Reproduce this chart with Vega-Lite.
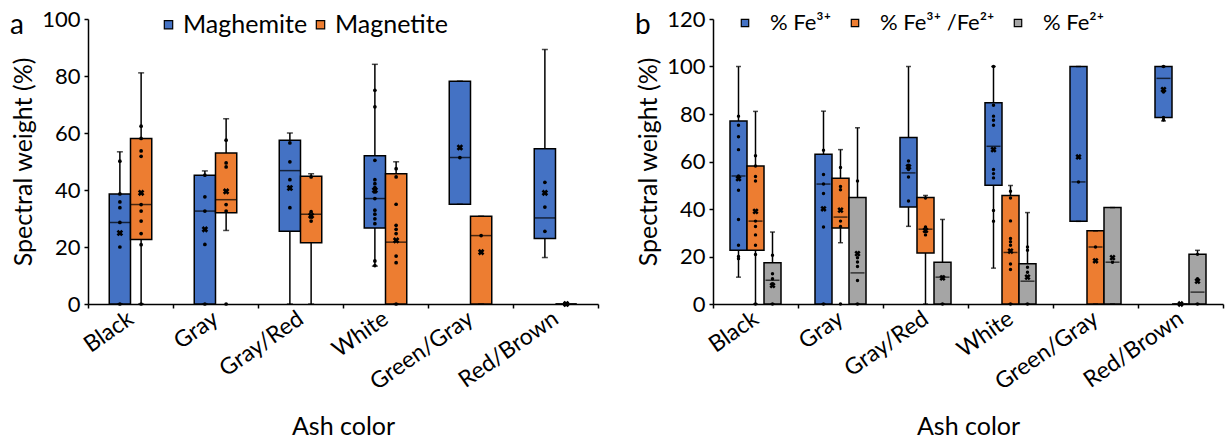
{
  "$schema": "https://vega.github.io/schema/vega-lite/v6.json",
  "padding": {"left": 10, "top": 8, "right": 5, "bottom": 4},
  "spacing": 36,
  "resolve": {"scale": {"color": "independent", "xOffset": "independent", "x": "independent", "y": "independent"}, "legend": {"color": "independent"}},
  "config": {
    "font": "Lato",
    "view": {"stroke": null},
    "axis": {"domainColor": "black", "domainWidth": 1.5, "tickColor": "black", "tickWidth": 1.5, "labelColor": "black", "titleColor": "black", "titleFontWeight": "normal", "grid": false},
    "legend": {"titleColor": "black", "titleFontWeight": "normal", "titleFontSize": 28, "titleOrient": "left", "titleBaseline": "top", "titleAnchor": "start"}
  },
  "datasets": {
    "boxA": [
      {"c": "Black", "s": "Maghemite", "lo": 0, "q1": 0, "med": 28.6, "q3": 38.6, "hi": 53.4, "mean": 24.9},
      {"c": "Black", "s": "Magnetite", "lo": 0, "q1": 22.6, "med": 34.9, "q3": 58.1, "hi": 81.1, "mean": 39.0},
      {"c": "Gray", "s": "Maghemite", "lo": 0, "q1": 0, "med": 32.6, "q3": 45.2, "hi": 46.7, "mean": 26.2},
      {"c": "Gray", "s": "Magnetite", "lo": 25.8, "q1": 32.0, "med": 36.6, "q3": 53.0, "hi": 65.0, "mean": 39.5},
      {"c": "Gray/Red", "s": "Maghemite", "lo": 0, "q1": 25.5, "med": 46.8, "q3": 57.5, "hi": 60.0, "mean": 40.7},
      {"c": "Gray/Red", "s": "Magnetite", "lo": 0, "q1": 21.5, "med": 31.5, "q3": 44.8, "hi": 45.7, "mean": 31.0},
      {"c": "White", "s": "Maghemite", "lo": 13.3, "q1": 26.7, "med": 37.0, "q3": 52.0, "hi": 84.1, "mean": 39.9},
      {"c": "White", "s": "Magnetite", "lo": 0, "q1": 0, "med": 21.7, "q3": 45.7, "hi": 49.9, "mean": 22.3},
      {"c": "Green/Gray", "s": "Maghemite", "lo": 35.0, "q1": 35.0, "med": 51.4, "q3": 78.2, "hi": 78.2, "mean": 54.9},
      {"c": "Green/Gray", "s": "Magnetite", "lo": 0, "q1": 0, "med": 24.0, "q3": 30.8, "hi": 30.8, "mean": 18.2},
      {"c": "Red/Brown", "s": "Maghemite", "lo": 16.3, "q1": 23.0, "med": 30.2, "q3": 54.5, "hi": 89.3, "mean": 39.0},
      {"c": "Red/Brown", "s": "Magnetite", "lo": 0, "q1": 0, "med": 0, "q3": 0, "hi": 0, "mean": 0}
    ],
    "ptsA": [
      {"c": "Black", "s": "Maghemite", "v": 50.1}, {"c": "Black", "s": "Maghemite", "v": 38.6}, {"c": "Black", "s": "Maghemite", "v": 35.8}, {"c": "Black", "s": "Maghemite", "v": 33.8}, {"c": "Black", "s": "Maghemite", "v": 28.6}, {"c": "Black", "s": "Maghemite", "v": 20.0}, {"c": "Black", "s": "Maghemite", "v": 0},
      {"c": "Black", "s": "Magnetite", "v": 62.4}, {"c": "Black", "s": "Magnetite", "v": 58.1}, {"c": "Black", "s": "Magnetite", "v": 53.7}, {"c": "Black", "s": "Magnetite", "v": 51.8}, {"c": "Black", "s": "Magnetite", "v": 34.9}, {"c": "Black", "s": "Magnetite", "v": 32.6}, {"c": "Black", "s": "Magnetite", "v": 29.1}, {"c": "Black", "s": "Magnetite", "v": 24.7}, {"c": "Black", "s": "Magnetite", "v": 20.8}, {"c": "Black", "s": "Magnetite", "v": 0},
      {"c": "Gray", "s": "Maghemite", "v": 45.2}, {"c": "Gray", "s": "Maghemite", "v": 37.6}, {"c": "Gray", "s": "Maghemite", "v": 32.6}, {"c": "Gray", "s": "Maghemite", "v": 20.9}, {"c": "Gray", "s": "Maghemite", "v": 0},
      {"c": "Gray", "s": "Magnetite", "v": 57.5}, {"c": "Gray", "s": "Magnetite", "v": 49.5}, {"c": "Gray", "s": "Magnetite", "v": 48.1}, {"c": "Gray", "s": "Magnetite", "v": 34.9}, {"c": "Gray", "s": "Magnetite", "v": 32.6}, {"c": "Gray", "s": "Magnetite", "v": 0},
      {"c": "Gray/Red", "s": "Maghemite", "v": 56.5}, {"c": "Gray/Red", "s": "Maghemite", "v": 49.9}, {"c": "Gray/Red", "s": "Maghemite", "v": 43.6}, {"c": "Gray/Red", "s": "Maghemite", "v": 33.8},
      {"c": "Gray/Red", "s": "Magnetite", "v": 44.6}, {"c": "Gray/Red", "s": "Magnetite", "v": 32.4}, {"c": "Gray/Red", "s": "Magnetite", "v": 30.5}, {"c": "Gray/Red", "s": "Magnetite", "v": 29.1},
      {"c": "White", "s": "Maghemite", "v": 75.0}, {"c": "White", "s": "Maghemite", "v": 69.2}, {"c": "White", "s": "Maghemite", "v": 50.4}, {"c": "White", "s": "Maghemite", "v": 43.6}, {"c": "White", "s": "Maghemite", "v": 42.2}, {"c": "White", "s": "Maghemite", "v": 40.8}, {"c": "White", "s": "Maghemite", "v": 39.3}, {"c": "White", "s": "Maghemite", "v": 37.0}, {"c": "White", "s": "Maghemite", "v": 32.9}, {"c": "White", "s": "Maghemite", "v": 31.5}, {"c": "White", "s": "Maghemite", "v": 29.9}, {"c": "White", "s": "Maghemite", "v": 28.2}, {"c": "White", "s": "Maghemite", "v": 15.1}, {"c": "White", "s": "Maghemite", "v": 13.5},
      {"c": "White", "s": "Magnetite", "v": 47.5}, {"c": "White", "s": "Magnetite", "v": 44.6}, {"c": "White", "s": "Magnetite", "v": 35.0}, {"c": "White", "s": "Magnetite", "v": 27.6}, {"c": "White", "s": "Magnetite", "v": 26.2}, {"c": "White", "s": "Magnetite", "v": 24.7}, {"c": "White", "s": "Magnetite", "v": 16.8}, {"c": "White", "s": "Magnetite", "v": 14.5}, {"c": "White", "s": "Magnetite", "v": 0},
      {"c": "Green/Gray", "s": "Maghemite", "v": 51.4},
      {"c": "Green/Gray", "s": "Magnetite", "v": 24.0},
      {"c": "Red/Brown", "s": "Maghemite", "v": 42.7}, {"c": "Red/Brown", "s": "Maghemite", "v": 34.0}, {"c": "Red/Brown", "s": "Maghemite", "v": 25.5},
      {"c": "Red/Brown", "s": "Magnetite", "v": 0}
    ],
    "boxB": [
      {"c": "Black", "s": "% Fe³⁺", "lo": 11.3, "q1": 22.6, "med": 53.9, "q3": 77.1, "hi": 100, "mean": 52.8},
      {"c": "Black", "s": "% Fe³⁺ /Fe²⁺", "lo": 0, "q1": 22.6, "med": 34.9, "q3": 58.1, "hi": 81.1, "mean": 39.0},
      {"c": "Black", "s": "% Fe²⁺", "lo": 0, "q1": 0, "med": 10.0, "q3": 17.4, "hi": 30.3, "mean": 7.8},
      {"c": "Gray", "s": "% Fe³⁺", "lo": 0, "q1": 0, "med": 50.5, "q3": 63.1, "hi": 81.2, "mean": 40.1},
      {"c": "Gray", "s": "% Fe³⁺ /Fe²⁺", "lo": 25.8, "q1": 32.0, "med": 36.6, "q3": 53.0, "hi": 65.0, "mean": 39.5},
      {"c": "Gray", "s": "% Fe²⁺", "lo": 0, "q1": 0, "med": 13.1, "q3": 44.8, "hi": 74.2, "mean": 21.2},
      {"c": "Gray/Red", "s": "% Fe³⁺", "lo": 32.7, "q1": 40.8, "med": 55.2, "q3": 70.1, "hi": 100, "mean": 57.7},
      {"c": "Gray/Red", "s": "% Fe³⁺ /Fe²⁺", "lo": 0, "q1": 21.5, "med": 31.5, "q3": 44.8, "hi": 45.7, "mean": 31.0},
      {"c": "Gray/Red", "s": "% Fe²⁺", "lo": 0, "q1": 0, "med": 11.3, "q3": 17.6, "hi": 35.6, "mean": 11.0},
      {"c": "White", "s": "% Fe³⁺", "lo": 15.1, "q1": 50.0, "med": 66.4, "q3": 84.7, "hi": 100, "mean": 65.0},
      {"c": "White", "s": "% Fe³⁺ /Fe²⁺", "lo": 0, "q1": 0, "med": 21.7, "q3": 45.7, "hi": 49.9, "mean": 22.3},
      {"c": "White", "s": "% Fe²⁺", "lo": 0, "q1": 0, "med": 9.6, "q3": 16.9, "hi": 38.5, "mean": 11.3},
      {"c": "Green/Gray", "s": "% Fe³⁺", "lo": 34.8, "q1": 34.8, "med": 51.4, "q3": 100, "hi": 100, "mean": 61.9},
      {"c": "Green/Gray", "s": "% Fe³⁺ /Fe²⁺", "lo": 0, "q1": 0, "med": 24.0, "q3": 30.8, "hi": 30.8, "mean": 18.2},
      {"c": "Green/Gray", "s": "% Fe²⁺", "lo": 0, "q1": 0, "med": 17.6, "q3": 40.6, "hi": 40.6, "mean": 19.5},
      {"c": "Red/Brown", "s": "% Fe³⁺", "lo": 77.1, "q1": 78.5, "med": 95.0, "q3": 100, "hi": 100, "mean": 90.3},
      {"c": "Red/Brown", "s": "% Fe³⁺ /Fe²⁺", "lo": 0, "q1": 0, "med": 0, "q3": 0, "hi": 0, "mean": 0},
      {"c": "Red/Brown", "s": "% Fe²⁺", "lo": 0, "q1": 0, "med": 5.0, "q3": 20.9, "hi": 22.6, "mean": 9.6}
    ],
    "ptsB": [
      {"c": "Black", "s": "% Fe³⁺", "v": 79.1}, {"c": "Black", "s": "% Fe³⁺", "v": 75.3}, {"c": "Black", "s": "% Fe³⁺", "v": 70.4}, {"c": "Black", "s": "% Fe³⁺", "v": 65.0}, {"c": "Black", "s": "% Fe³⁺", "v": 53.9}, {"c": "Black", "s": "% Fe³⁺", "v": 47.9}, {"c": "Black", "s": "% Fe³⁺", "v": 35.6}, {"c": "Black", "s": "% Fe³⁺", "v": 24.7}, {"c": "Black", "s": "% Fe³⁺", "v": 20.0}, {"c": "Black", "s": "% Fe³⁺", "v": 19.1},
      {"c": "Gray", "s": "% Fe³⁺", "v": 64.7}, {"c": "Gray", "s": "% Fe³⁺", "v": 54.5}, {"c": "Gray", "s": "% Fe³⁺", "v": 50.5}, {"c": "Gray", "s": "% Fe³⁺", "v": 46.5}, {"c": "Gray", "s": "% Fe³⁺", "v": 32.4}, {"c": "Gray", "s": "% Fe³⁺", "v": 0},
      {"c": "Gray/Red", "s": "% Fe³⁺", "v": 60.2}, {"c": "Gray/Red", "s": "% Fe³⁺", "v": 58.4}, {"c": "Gray/Red", "s": "% Fe³⁺", "v": 56.6}, {"c": "Gray/Red", "s": "% Fe³⁺", "v": 53.5}, {"c": "Gray/Red", "s": "% Fe³⁺", "v": 43.4},
      {"c": "White", "s": "% Fe³⁺", "v": 100}, {"c": "White", "s": "% Fe³⁺", "v": 83.7}, {"c": "White", "s": "% Fe³⁺", "v": 79.1}, {"c": "White", "s": "% Fe³⁺", "v": 77.4}, {"c": "White", "s": "% Fe³⁺", "v": 75.3}, {"c": "White", "s": "% Fe³⁺", "v": 56.6}, {"c": "White", "s": "% Fe³⁺", "v": 54.9}, {"c": "White", "s": "% Fe³⁺", "v": 53.1}, {"c": "White", "s": "% Fe³⁺", "v": 39.4}, {"c": "White", "s": "% Fe³⁺", "v": 34.8},
      {"c": "Green/Gray", "s": "% Fe³⁺", "v": 51.4},
      {"c": "Red/Brown", "s": "% Fe³⁺", "v": 100}, {"c": "Red/Brown", "s": "% Fe³⁺", "v": 89.3}, {"c": "Red/Brown", "s": "% Fe³⁺", "v": 78.5}, {"c": "Red/Brown", "s": "% Fe³⁺", "v": 77.5},
      {"c": "Black", "s": "% Fe³⁺ /Fe²⁺", "v": 62.4}, {"c": "Black", "s": "% Fe³⁺ /Fe²⁺", "v": 58.1}, {"c": "Black", "s": "% Fe³⁺ /Fe²⁺", "v": 53.7}, {"c": "Black", "s": "% Fe³⁺ /Fe²⁺", "v": 51.8}, {"c": "Black", "s": "% Fe³⁺ /Fe²⁺", "v": 34.9}, {"c": "Black", "s": "% Fe³⁺ /Fe²⁺", "v": 32.6}, {"c": "Black", "s": "% Fe³⁺ /Fe²⁺", "v": 29.1}, {"c": "Black", "s": "% Fe³⁺ /Fe²⁺", "v": 24.7}, {"c": "Black", "s": "% Fe³⁺ /Fe²⁺", "v": 20.8}, {"c": "Black", "s": "% Fe³⁺ /Fe²⁺", "v": 0},
      {"c": "Gray", "s": "% Fe³⁺ /Fe²⁺", "v": 57.5}, {"c": "Gray", "s": "% Fe³⁺ /Fe²⁺", "v": 49.5}, {"c": "Gray", "s": "% Fe³⁺ /Fe²⁺", "v": 48.1}, {"c": "Gray", "s": "% Fe³⁺ /Fe²⁺", "v": 34.9}, {"c": "Gray", "s": "% Fe³⁺ /Fe²⁺", "v": 32.6}, {"c": "Gray", "s": "% Fe³⁺ /Fe²⁺", "v": 0},
      {"c": "Gray/Red", "s": "% Fe³⁺ /Fe²⁺", "v": 44.6}, {"c": "Gray/Red", "s": "% Fe³⁺ /Fe²⁺", "v": 32.4}, {"c": "Gray/Red", "s": "% Fe³⁺ /Fe²⁺", "v": 30.5}, {"c": "Gray/Red", "s": "% Fe³⁺ /Fe²⁺", "v": 29.1},
      {"c": "White", "s": "% Fe³⁺ /Fe²⁺", "v": 47.5}, {"c": "White", "s": "% Fe³⁺ /Fe²⁺", "v": 44.6}, {"c": "White", "s": "% Fe³⁺ /Fe²⁺", "v": 35.0}, {"c": "White", "s": "% Fe³⁺ /Fe²⁺", "v": 27.6}, {"c": "White", "s": "% Fe³⁺ /Fe²⁺", "v": 26.2}, {"c": "White", "s": "% Fe³⁺ /Fe²⁺", "v": 24.7}, {"c": "White", "s": "% Fe³⁺ /Fe²⁺", "v": 16.8}, {"c": "White", "s": "% Fe³⁺ /Fe²⁺", "v": 14.5}, {"c": "White", "s": "% Fe³⁺ /Fe²⁺", "v": 0},
      {"c": "Green/Gray", "s": "% Fe³⁺ /Fe²⁺", "v": 24.0},
      {"c": "Red/Brown", "s": "% Fe³⁺ /Fe²⁺", "v": 0},
      {"c": "Black", "s": "% Fe²⁺", "v": 20.5}, {"c": "Black", "s": "% Fe²⁺", "v": 12.7}, {"c": "Black", "s": "% Fe²⁺", "v": 10.6}, {"c": "Black", "s": "% Fe²⁺", "v": 8.5}, {"c": "Black", "s": "% Fe²⁺", "v": 0},
      {"c": "Gray", "s": "% Fe²⁺", "v": 51.8}, {"c": "Gray", "s": "% Fe²⁺", "v": 19.5}, {"c": "Gray", "s": "% Fe²⁺", "v": 17.7}, {"c": "Gray", "s": "% Fe²⁺", "v": 15.8}, {"c": "Gray", "s": "% Fe²⁺", "v": 9.9}, {"c": "Gray", "s": "% Fe²⁺", "v": 0},
      {"c": "Gray/Red", "s": "% Fe²⁺", "v": 11.3}, {"c": "Gray/Red", "s": "% Fe²⁺", "v": 0},
      {"c": "White", "s": "% Fe²⁺", "v": 24.0}, {"c": "White", "s": "% Fe²⁺", "v": 22.6}, {"c": "White", "s": "% Fe²⁺", "v": 15.5}, {"c": "White", "s": "% Fe²⁺", "v": 13.4}, {"c": "White", "s": "% Fe²⁺", "v": 0},
      {"c": "Green/Gray", "s": "% Fe²⁺", "v": 17.6},
      {"c": "Red/Brown", "s": "% Fe²⁺", "v": 20.9}, {"c": "Red/Brown", "s": "% Fe²⁺", "v": 10.6}, {"c": "Red/Brown", "s": "% Fe²⁺", "v": 0}
    ]
  },
  "hconcat": [
    {
      "width": 510,
      "height": 285,
      "encoding": {
        "x": {"field": "c", "type": "nominal", "sort": ["Black", "Gray", "Gray/Red", "White", "Green/Gray", "Red/Brown"], "scale": {"paddingInner": 0, "paddingOuter": 0}, "title": "Ash color",
          "axis": {"labelAngle": -35, "labelAlign": "right", "labelBaseline": "middle", "labelFontSize": 23, "labelPadding": 8, "tickBand": "extent", "tickSize": 4, "titleFontSize": 25, "titlePadding": 20}},
        "xOffset": {"field": "s", "type": "nominal", "scale": {"domain": ["Maghemite", "Magnetite"], "paddingInner": 0, "paddingOuter": 1}}
      },
      "layer": [
        {"data": {"name": "boxA"}, "mark": {"type": "rule", "color": "black", "strokeWidth": 1.5},
          "encoding": {"y": {"field": "lo", "type": "quantitative", "scale": {"domain": [0, 100]}, "title": "Spectral weight (%)",
            "axis": {"values": [0, 20, 40, 60, 80, 100], "labelFontSize": 22, "labelPadding": 4, "tickSize": 4, "minExtent": 46, "maxExtent": 46, "titleFontSize": 25, "titlePadding": 6}},
            "y2": {"field": "hi"}}},
        {"data": {"name": "boxA"}, "mark": {"type": "bar", "stroke": "black", "strokeWidth": 1.5, "opacity": 1},
          "encoding": {"y": {"field": "q1", "type": "quantitative"}, "y2": {"field": "q3"},
            "color": {"field": "s", "type": "nominal", "scale": {"domain": ["Maghemite", "Magnetite"], "range": ["#4472C4", "#ED7D31"]},
              "legend": {"orient": "none", "legendX": -78, "legendY": -7, "direction": "horizontal", "columns": 2, "title": "a", "titlePadding": 132, "symbolType": "square", "symbolSize": 70, "symbolStrokeColor": "black", "symbolStrokeWidth": 1.2, "labelFontSize": 25, "labelColor": "black", "labelOffset": 2, "columnPadding": 0, "padding": 0}}}},
        {"data": {"name": "boxA"}, "mark": {"type": "tick", "color": "black", "thickness": 1.5, "size": 21},
          "encoding": {"y": {"field": "med", "type": "quantitative"}}},
        {"data": {"name": "boxA"}, "mark": {"type": "tick", "color": "black", "thickness": 1.5, "size": 6},
          "encoding": {"y": {"field": "hi", "type": "quantitative"}}},
        {"data": {"name": "boxA"}, "mark": {"type": "tick", "color": "black", "thickness": 1.5, "size": 6},
          "encoding": {"y": {"field": "lo", "type": "quantitative"}}},
        {"data": {"name": "ptsA"}, "mark": {"type": "point", "filled": true, "color": "black", "size": 14, "opacity": 1},
          "encoding": {"y": {"field": "v", "type": "quantitative"}}},
        {"data": {"name": "boxA"}, "mark": {"type": "point", "shape": "cross", "angle": 45, "filled": true, "color": "black", "size": 45, "opacity": 1},
          "encoding": {"y": {"field": "mean", "type": "quantitative"}}}
      ]
    },
    {
      "width": 510,
      "height": 285,
      "encoding": {
        "x": {"field": "c", "type": "nominal", "sort": ["Black", "Gray", "Gray/Red", "White", "Green/Gray", "Red/Brown"], "scale": {"paddingInner": 0, "paddingOuter": 0}, "title": "Ash color",
          "axis": {"labelAngle": -35, "labelAlign": "right", "labelBaseline": "middle", "labelFontSize": 23, "labelPadding": 8, "tickBand": "extent", "tickSize": 4, "titleFontSize": 25, "titlePadding": 20}},
        "xOffset": {"field": "s", "type": "nominal", "scale": {"domain": ["% Fe³⁺", "% Fe³⁺ /Fe²⁺", "% Fe²⁺"], "paddingInner": 0, "paddingOuter": 1.5}}
      },
      "layer": [
        {"data": {"name": "boxB"}, "mark": {"type": "rule", "color": "black", "strokeWidth": 1.5},
          "encoding": {"y": {"field": "lo", "type": "quantitative", "scale": {"domain": [0, 120]}, "title": "Spectral weight (%)",
            "axis": {"values": [0, 20, 40, 60, 80, 100, 120], "labelFontSize": 22, "labelPadding": 4, "tickSize": 4, "minExtent": 46, "maxExtent": 46, "titleFontSize": 25, "titlePadding": 6}},
            "y2": {"field": "hi"}}},
        {"data": {"name": "boxB"}, "mark": {"type": "bar", "stroke": "black", "strokeWidth": 1.5, "opacity": 1},
          "encoding": {"y": {"field": "q1", "type": "quantitative"}, "y2": {"field": "q3"},
            "color": {"field": "s", "type": "nominal", "scale": {"domain": ["% Fe³⁺", "% Fe³⁺ /Fe²⁺", "% Fe²⁺"], "range": ["#4472C4", "#ED7D31", "#A5A5A5"]},
              "legend": {"orient": "none", "legendX": -78, "legendY": -7, "direction": "horizontal", "columns": 3, "title": "b", "titlePadding": 83, "symbolType": "square", "symbolSize": 55, "symbolStrokeColor": "black", "symbolStrokeWidth": 1.2, "labelFontSize": 22, "labelColor": "black", "labelOffset": 14, "columnPadding": 12, "padding": 0}}}},
        {"data": {"name": "boxB"}, "mark": {"type": "tick", "color": "black", "thickness": 1.5, "size": 14},
          "encoding": {"y": {"field": "med", "type": "quantitative"}}},
        {"data": {"name": "boxB"}, "mark": {"type": "tick", "color": "black", "thickness": 1.5, "size": 5},
          "encoding": {"y": {"field": "hi", "type": "quantitative"}}},
        {"data": {"name": "boxB"}, "mark": {"type": "tick", "color": "black", "thickness": 1.5, "size": 5},
          "encoding": {"y": {"field": "lo", "type": "quantitative"}}},
        {"data": {"name": "ptsB"}, "mark": {"type": "point", "filled": true, "color": "black", "size": 12, "opacity": 1},
          "encoding": {"y": {"field": "v", "type": "quantitative"}}},
        {"data": {"name": "boxB"}, "mark": {"type": "point", "shape": "cross", "angle": 45, "filled": true, "color": "black", "size": 40, "opacity": 1},
          "encoding": {"y": {"field": "mean", "type": "quantitative"}}}
      ]
    }
  ]
}
